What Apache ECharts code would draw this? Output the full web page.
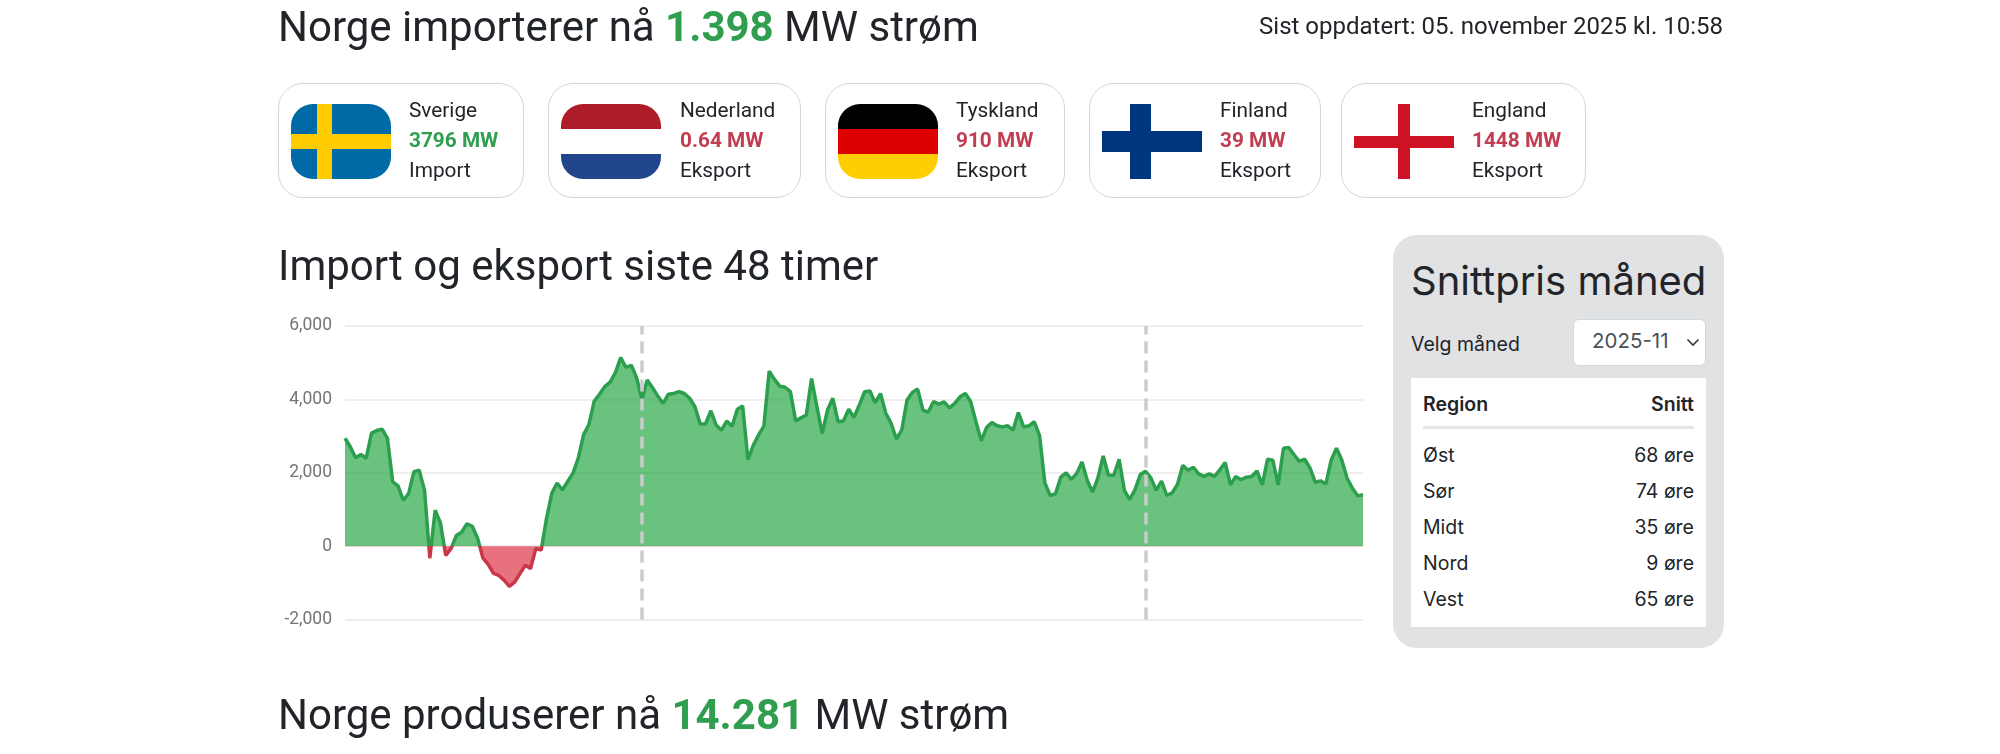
<!DOCTYPE html>
<html><head><meta charset="utf-8">
<script src="https://cdn.jsdelivr.net/npm/echarts@6/dist/echarts.min.js"></script>
<style>
html,body{margin:0;padding:0;background:#fff;width:2000px;height:754px;overflow:hidden}
body{font-family:Roboto,sans-serif;color:#212529;position:relative}
.a{position:absolute;white-space:nowrap;line-height:1}
#chart{position:absolute;left:0;top:0;width:2000px;height:754px}
.h{font-size:42px;transform:translateY(-50%)}
.h b{font-weight:700;color:#2f9e4f}
.card{position:absolute;top:83px;height:115px;box-sizing:border-box;border:1px solid #d5d5d5;border-radius:25px;background:#fff}
.flag{position:absolute;top:20px;width:100px;height:75px;overflow:hidden}
.txt{position:absolute;top:0;font-size:20.8px;line-height:30px;padding-top:11px}
.txt b{font-weight:700;display:block}
.txt span{display:block}
.g{color:#2f9e4f}.r{color:#c13e52}
.panel{position:absolute;left:1393px;top:235px;width:331px;height:413px;background:#e1e2e4;border-radius:24px}
.inter{font-family:Inter,sans-serif}
</style></head><body>
<div id="chart"></div>
<div class="a h" style="left:278px;top:27px">Norge importerer nå <b>1.398</b> MW strøm</div>
<div class="a" style="right:277px;top:26px;font-size:24px;transform:translateY(-50%)">Sist oppdatert: 05. november 2025 kl. 10:58</div>

<div class="card" style="left:278px;width:246px"><div class="flag" style="left:12px;border-radius:22px;background:#006aa7">
<div style="position:absolute;left:26px;top:0;width:15px;height:75px;background:#fecc00"></div><div style="position:absolute;left:0;top:30px;width:100px;height:15px;background:#fecc00"></div></div>
<div class="txt" style="left:130px"><span>Sverige</span><b class="g">3796 MW</b><span>Import</span></div></div>

<div class="card" style="left:548px;width:253px"><div class="flag" style="left:12px;border-radius:22px;background:#fff">
<div style="height:25px;background:#ae1c28"></div><div style="height:25px;background:#fff"></div><div style="height:25px;background:#21468b"></div></div>
<div class="txt" style="left:131px"><span>Nederland</span><b class="r">0.64 MW</b><span>Eksport</span></div></div>

<div class="card" style="left:825px;width:240px"><div class="flag" style="left:12px;border-radius:22px">
<div style="height:25px;background:#000"></div><div style="height:25px;background:#dd0000"></div><div style="height:25px;background:#ffce00"></div></div>
<div class="txt" style="left:130px"><span>Tyskland</span><b class="r">910 MW</b><span>Eksport</span></div></div>

<div class="card" style="left:1089px;width:232px"><div class="flag" style="left:12px">
<div style="position:absolute;left:28px;top:0;width:21px;height:75px;background:#003580"></div><div style="position:absolute;left:0;top:27px;width:100px;height:21px;background:#003580"></div></div>
<div class="txt" style="left:130px"><span>Finland</span><b class="r">39 MW</b><span>Eksport</span></div></div>

<div class="card" style="left:1341px;width:245px"><div class="flag" style="left:12px">
<div style="position:absolute;left:44px;top:0;width:12px;height:75px;background:#ce1124"></div><div style="position:absolute;left:0;top:32px;width:100px;height:12px;background:#ce1124"></div></div>
<div class="txt" style="left:130px"><span>England</span><b class="r">1448 MW</b><span>Eksport</span></div></div>

<div class="a h" style="left:278px;top:266px">Import og eksport siste 48 timer</div>

<div class="panel"></div>
<div class="a inter" style="left:1411px;top:281px;font-size:40px;transform:translateY(-50%)">Snittpris måned</div>
<div class="a inter" style="left:1411px;top:345px;font-size:19.5px;transform:translateY(-50%)">Velg måned</div>
<div style="position:absolute;left:1573px;top:319px;width:133px;height:47px;background:#fff;border-radius:6px;box-sizing:border-box;border:1px solid #d5d8db"></div>
<div class="a inter" style="left:1592px;top:341px;font-size:20.5px;color:#495057;transform:translateY(-50%)">2025-11</div>
<svg style="position:absolute;left:1686px;top:338px" width="14" height="9"><path d="M1.5 1.5 L7 7 L12.5 1.5" fill="none" stroke="#343a40" stroke-width="1.6"/></svg>
<div style="position:absolute;left:1411px;top:378px;width:295px;height:249px;background:#fff"></div>
<div style="position:absolute;left:1423px;top:426px;width:271px;height:3px;background:#e4e6e8"></div>
<div id="tbl"></div>

<div class="a h" style="left:278px;top:715px">Norge produserer nå <b>14.281</b> MW strøm</div>

<script>
const flowMW = [
2940,2710,2410,2500,2390,3080,3150,3190,2940,1750,1640,1250,1430,2030,2070,1520,-330,977,630,-256,
-70,290,380,610,540,220,-320,-500,-745,-800,-925,-1100,-980,-750,-520,-610,-60,-110,750,1440,
1720,1530,1760,1990,2400,3040,3310,3950,4140,4350,4470,4730,5140,4870,4930,4590,4000,4530,4320,4090,
3890,4140,4160,4210,4160,4030,3800,3330,3330,3690,3300,3160,3410,3270,3730,3820,2360,2750,3030,3270,
4770,4545,4360,4330,4210,3410,3500,3570,4570,3800,3070,3710,4030,3390,3410,3730,3510,3845,4210,4230,
3910,4160,3620,3350,2920,3160,3980,4190,4280,3710,3650,3940,3870,3930,3770,3890,4070,4160,3940,3390,
2870,3230,3370,3280,3250,3280,3160,3640,3250,3280,3390,3010,1720,1380,1430,1880,2000,1820,1980,2290,
1790,1470,1860,2460,1930,1930,2370,1520,1270,1540,1950,2040,1860,1520,1770,1380,1450,1680,2200,2070,
2150,1970,1900,1970,1900,2080,2280,1670,1900,1810,1880,1900,2050,1670,2370,2340,1670,2670,2690,2490,
2310,2370,2130,1740,1780,1690,2350,2670,2350,1850,1580,1370,1398];
const sampleIndex = flowMW.map((_, i) => i);
const dayMarks = [56, 151];
const yTicks = {min: -2000, max: 6000, step: 2000};
const regions = ["Øst","Sør","Midt","Nord","Vest"];
const prices = [68,74,35,9,65];

const rowY = [456,492,528,564,600];
let html = '<div class="a inter" style="left:1423px;top:405px;font-size:19.5px;font-weight:600;transform:translateY(-50%)">Region</div>'
 + '<div class="a inter" style="right:306px;top:405px;font-size:19.5px;font-weight:600;transform:translateY(-50%)">Snitt</div>';
regions.forEach((r,i)=>{
 html += `<div class="a inter" style="left:1423px;top:${rowY[i]}px;font-size:19.5px;transform:translateY(-50%)">${r}</div>`
  + `<div class="a inter" style="right:306px;top:${rowY[i]}px;font-size:19.5px;transform:translateY(-50%)">${prices[i]} øre</div>`;
});
document.getElementById('tbl').innerHTML = html;

const chart = echarts.init(document.getElementById('chart'), null, {renderer:'canvas'});
const vm = (idx, neg, pos) => ({show:false,type:'piecewise',seriesIndex:idx,dimension:1,
  pieces:[{min:yTicks.min,max:0,color:neg},{min:0,max:yTicks.max,color:pos}]});
chart.setOption({
 animation:false,
 grid:{left:345,right:637,top:326,bottom:134.5,containLabel:false},
 xAxis:{type:'category',data:sampleIndex,boundaryGap:false,axisLine:{show:false},axisTick:{show:false},axisLabel:{show:false},splitLine:{show:false}},
 yAxis:{type:'value',min:yTicks.min,max:yTicks.max,interval:yTicks.step,
  axisLine:{show:false},axisTick:{show:false},
  axisLabel:{color:'#757575',fontSize:17.5,fontFamily:'Roboto',margin:13,
    formatter:v=>v.toLocaleString('en-US')},
  splitLine:{lineStyle:{color:'#eeeeee',width:2}}},
 visualMap:[vm(0,'#dc3545','#28a745'),vm(1,'#c8374a','#2c9f4e')],
 series:[
  {name:'area',type:'line',data:flowMW,showSymbol:false,symbol:'none',smooth:false,
   lineStyle:{width:0},areaStyle:{opacity:0.7,origin:0}},
  {name:'line',type:'line',data:flowMW,showSymbol:false,symbol:'none',smooth:false,
   lineStyle:{width:3.5},
   markLine:{silent:true,symbol:'none',label:{show:false},
    lineStyle:{color:'#cbcbcb',type:[12,7],width:3.5},
    data:dayMarks.map(i=>({xAxis:i}))}}]
});
</script>
</body></html>
